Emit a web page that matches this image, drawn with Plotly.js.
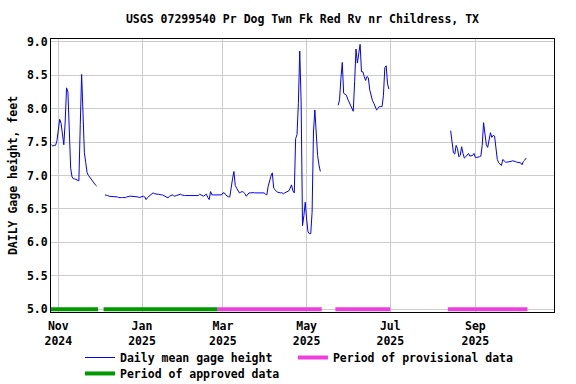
<!DOCTYPE html>
<html>
<head>
<meta charset="utf-8">
<script src="https://cdn.plot.ly/plotly-3.0.1.min.js"></script>
<style>html,body{margin:0;padding:0;background:#fff;}#chart{width:576px;height:384px;}</style>
</head>
<body>
<div id="chart"></div>
<script>
// ---- data ----
const chartTitle = 'USGS 07299540 Pr Dog Twn Fk Red Rv nr Childress, TX';
const yTitle = 'DAILY Gage height, feet';
const seriesName = 'Daily mean gage height';
const provisionalName = 'Period of provisional data';
const approvedName = 'Period of approved data';

const segStarts = ['2024-10-27', '2024-12-05', '2025-05-24', '2025-08-14'];
const seg1 = [7.46, 7.44, 7.45, 7.45, 7.52, 7.72, 7.84, 7.78, 7.56, 7.46, 7.80, 8.31, 8.25, 7.70, 7.11, 6.98, 6.95, 6.95, 6.94, 6.92, 6.92, 7.76, 8.51, 7.93, 7.34, 7.19, 7.04, 7.00, 6.97, 6.94, 6.91, 6.88, 6.86, 6.84];
const seg2 = [6.71, 6.71, 6.70, 6.69, 6.69, 6.68, 6.68, 6.68, 6.68, 6.68,
  6.67, 6.665, 6.67, 6.67, 6.665, 6.67, 6.68, 6.69, 6.69, 6.69,
  6.69, 6.69, 6.68, 6.68, 6.68, 6.67, 6.68, 6.69, 6.69, 6.68,
  6.64, 6.67, 6.69, 6.70, 6.72, 6.74, 6.73, 6.72, 6.72, 6.72,
  6.71, 6.71, 6.71, 6.70, 6.69, 6.68, 6.665, 6.69, 6.70, 6.71,
  6.70, 6.69, 6.70, 6.71, 6.71, 6.72, 6.71, 6.70, 6.70, 6.70,
  6.70, 6.70, 6.70, 6.70, 6.70, 6.70, 6.70, 6.70, 6.70, 6.72,
  6.71, 6.70, 6.69, 6.71, 6.72, 6.67, 6.64, 6.76, 6.71, 6.71,
  6.71, 6.71, 6.71, 6.71, 6.71, 6.71, 6.74, 6.74, 6.71, 6.69,
  6.68, 6.68, 6.85, 6.95, 7.06, 6.85, 6.81, 6.77, 6.74, 6.75,
  6.76, 6.75, 6.73, 6.69, 6.72, 6.74, 6.74, 6.745, 6.745, 6.74,
  6.74, 6.74, 6.73, 6.73, 6.74, 6.74, 6.74, 6.72, 6.71, 6.84,
  6.93, 6.99, 7.04, 6.81, 6.79, 6.76, 6.75, 6.74, 6.74, 6.745,
  6.725, 6.74, 6.75, 6.76, 6.77, 6.81, 6.86, 6.77, 6.74, 7.55,
  7.61, 8.08, 8.86, 8.10, 6.25, 6.40, 6.60, 6.35, 6.16, 6.13,
  6.13, 6.45, 7.65, 7.98, 7.60, 7.30, 7.16, 7.06];
const seg3 = [8.05, 8.13, 8.45, 8.69, 8.23, 8.21, 8.20, 8.14, 8.10, 8.04, 8.00, 7.96, 8.40, 8.89, 8.68, 8.86, 8.96, 8.55, 8.55, 8.48, 8.42, 8.48, 8.46, 8.28, 8.18, 8.12, 8.08, 8.03, 7.98, 8.00, 8.03, 8.03, 8.03, 8.20, 8.61, 8.64, 8.37, 8.29];
const seg4 = [7.67, 7.48, 7.34, 7.32, 7.45, 7.40, 7.28, 7.30, 7.43, 7.33, 7.26, 7.28, 7.31, 7.33, 7.29, 7.29, 7.30, 7.33, 7.27, 7.27, 7.27, 7.28, 7.29, 7.45, 7.79, 7.62, 7.46, 7.42, 7.55, 7.64, 7.57, 7.60, 7.59, 7.40, 7.24, 7.19, 7.17, 7.15, 7.24, 7.22, 7.20, 7.20, 7.20, 7.21, 7.21, 7.22, 7.22, 7.21, 7.20, 7.20, 7.19, 7.19, 7.16, 7.21, 7.23, 7.26];

const approvedStart = ['2024-10-26', '2024-12-04'];
const approvedEnd = ['2024-11-30', '2025-02-25'];
const provisionalStart = ['2025-02-25', '2025-05-22', '2025-08-12'];
const provisionalEnd = ['2025-05-12', '2025-07-01', '2025-10-09'];
const periodLevel = 5.0;

const tickDates = ['2024-11-01', '2025-01-01', '2025-03-01', '2025-05-01', '2025-07-01', '2025-09-01'];
const tickLabels = ['Nov<br>2024', 'Jan<br>2025', 'Mar<br>2025', 'May<br>2025', 'Jul<br>2025', 'Sep<br>2025'];
const yTicks = [5.0, 5.5, 6.0, 6.5, 7.0, 7.5, 8.0, 8.5, 9.0];

// ---- build traces ----
function addDays(s, n) {
  const d = new Date(s + 'T00:00:00Z');
  d.setUTCDate(d.getUTCDate() + n);
  return d.toISOString().slice(0, 10);
}
const segs = [seg1, seg2, seg3, seg4];
const xs = [], ys = [];
segs.forEach((seg, i) => {
  seg.forEach((v, j) => { xs.push(addDays(segStarts[i], j)); ys.push(v); });
  xs.push(addDays(segStarts[i], seg.length)); ys.push(null);
});
function periods(starts, ends) {
  const x = [], y = [];
  starts.forEach((s, i) => { x.push(s, ends[i], ends[i]); y.push(periodLevel, periodLevel, null); });
  return {x, y};
}
const prov = periods(provisionalStart, provisionalEnd);
const appr = periods(approvedStart, approvedEnd);

const FONT = 'DejaVu Sans Mono, monospace';
const F = {family: FONT, size: 11.5, color: '#000', weight: 'bold'};
const traces = [
  {x: xs, y: ys, type: 'scatter', mode: 'lines', name: seriesName, connectgaps: false,
   line: {color: '#0000ff', width: 1}, legend: 'legend'},
  {x: prov.x, y: prov.y, type: 'scatter', mode: 'lines', name: provisionalName, connectgaps: false,
   line: {color: '#ee3fdc', width: 4}, legend: 'legend2'},
  {x: appr.x, y: appr.y, type: 'scatter', mode: 'lines', name: approvedName, connectgaps: false,
   line: {color: '#009900', width: 4}, legend: 'legend3'}
];

function leg(x, y) {
  return {orientation: 'v', x: x, xanchor: 'left', y: y, yanchor: 'top', font: F,
          bgcolor: 'rgba(0,0,0,0)', borderwidth: 0};
}

const layout = {
  width: 576, height: 384,
  margin: {l: 51, r: 22, t: 39, b: 72, autoexpand: false},
  paper_bgcolor: '#fff', plot_bgcolor: '#fff',
  font: F,
  title: {text: '<b>' + chartTitle + '</b>', x: 0.5, xref: 'paper', xanchor: 'center',
          y: 0.95, yref: 'container', yanchor: 'middle', font: {family: FONT, size: 11.5, color: '#000'}},
  xaxis: {type: 'date', range: ['2024-10-26 16:00', '2025-10-28 08:00'],
          tickvals: tickDates, ticktext: tickLabels, showgrid: true, gridcolor: '#cccccc', gridwidth: 1,
          showline: true, linecolor: '#000', linewidth: 1, mirror: true, ticks: '', ticklabelstandoff: 3,
          zeroline: false, tickfont: F},
  yaxis: {range: [4.96, 9.04], tickvals: yTicks, tickformat: '.1f', showgrid: true, gridcolor: '#cccccc',
          showline: true, linecolor: '#000', linewidth: 1, mirror: true, ticks: '', zeroline: false,
          tickfont: F, title: {text: yTitle, standoff: 6, font: F}},
  showlegend: true,
  legend: leg(0.0577, -0.1136),
  legend2: leg(0.481, -0.1136),
  legend3: leg(0.0577, -0.172)
};

Plotly.newPlot('chart', traces, layout, {displayModeBar: false, staticPlot: true});
</script>
</body>
</html>
